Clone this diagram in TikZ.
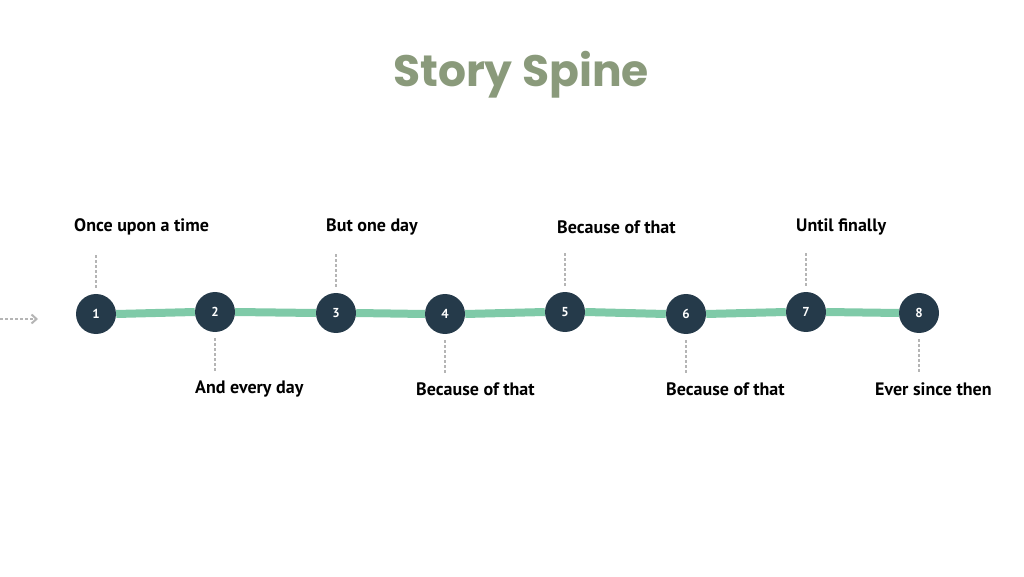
\documentclass[tikz,border=0pt]{standalone}
\usepackage{fontspec}
\setmainfont{PT Sans}
\newfontfamily\titlefont{Poppins}
\usetikzlibrary{arrows.meta}
\definecolor{nodeblue}{HTML}{253A4A}
\definecolor{spine}{HTML}{7FCAA8}
\definecolor{dotgray}{HTML}{B5B5B5}
\definecolor{titlegreen}{HTML}{8A9A7B}
\begin{document}
\begin{tikzpicture}[x=1pt,y=1pt,
  stepnode/.style={circle,fill=nodeblue,minimum size=40pt,inner sep=0pt,text=white,font=\fontsize{13}{13}\selectfont\bfseries},
  lab/.style={anchor=west,inner sep=0pt,font=\fontsize{18}{18}\selectfont\bfseries,text=black},
  tick/.style={dotgray,line width=2.5pt,dash pattern=on 2.5pt off 2.5pt}]
\useasboundingbox (0,0) rectangle (1024,576);
\node[font=\titlefont\fontsize{44}{44}\selectfont\bfseries,text=titlegreen] (title) at (521,501) {Story Spine};
\foreach \n/\x/\y in {1/96/262,2/215/264,3/336/263,4/445/262,5/565/264,6/686/262,7/806/264,8/919/263}
  \node[stepnode] (s\n) at (\x,\y) {\n};
\coordinate (a0) at (0,257);
\coordinate (a1) at (38,257);
\draw[tick,line width=2pt,-{Straight Barb[length=5pt,width=9pt]}] (a0) -- (a1);
\foreach \a/\b in {1/2,2/3,3/4,4/5,5/6,6/7,7/8}
  \draw[spine,line width=8pt] (s\a.east) -- (s\b.west);
\foreach \n/\x/\t in {1/74/Once upon a time,3/326/But one day,5/557/Because of that,7/796/Until finally}{
  \node[lab] (t\n) at (\x,349) {\t};
  \draw[tick] (s\n.north)+(0,6) -- +(0,40);
}
\foreach \n/\x/\t in {2/195/And every day,4/416/Because of that,6/666/Because of that,8/875/Ever since then}{
  \node[lab] (b\n) at (\x,187) {\t};
  \draw[tick] (s\n.south)+(0,-6) -- +(0,-40);
}
\end{tikzpicture}
\end{document}
